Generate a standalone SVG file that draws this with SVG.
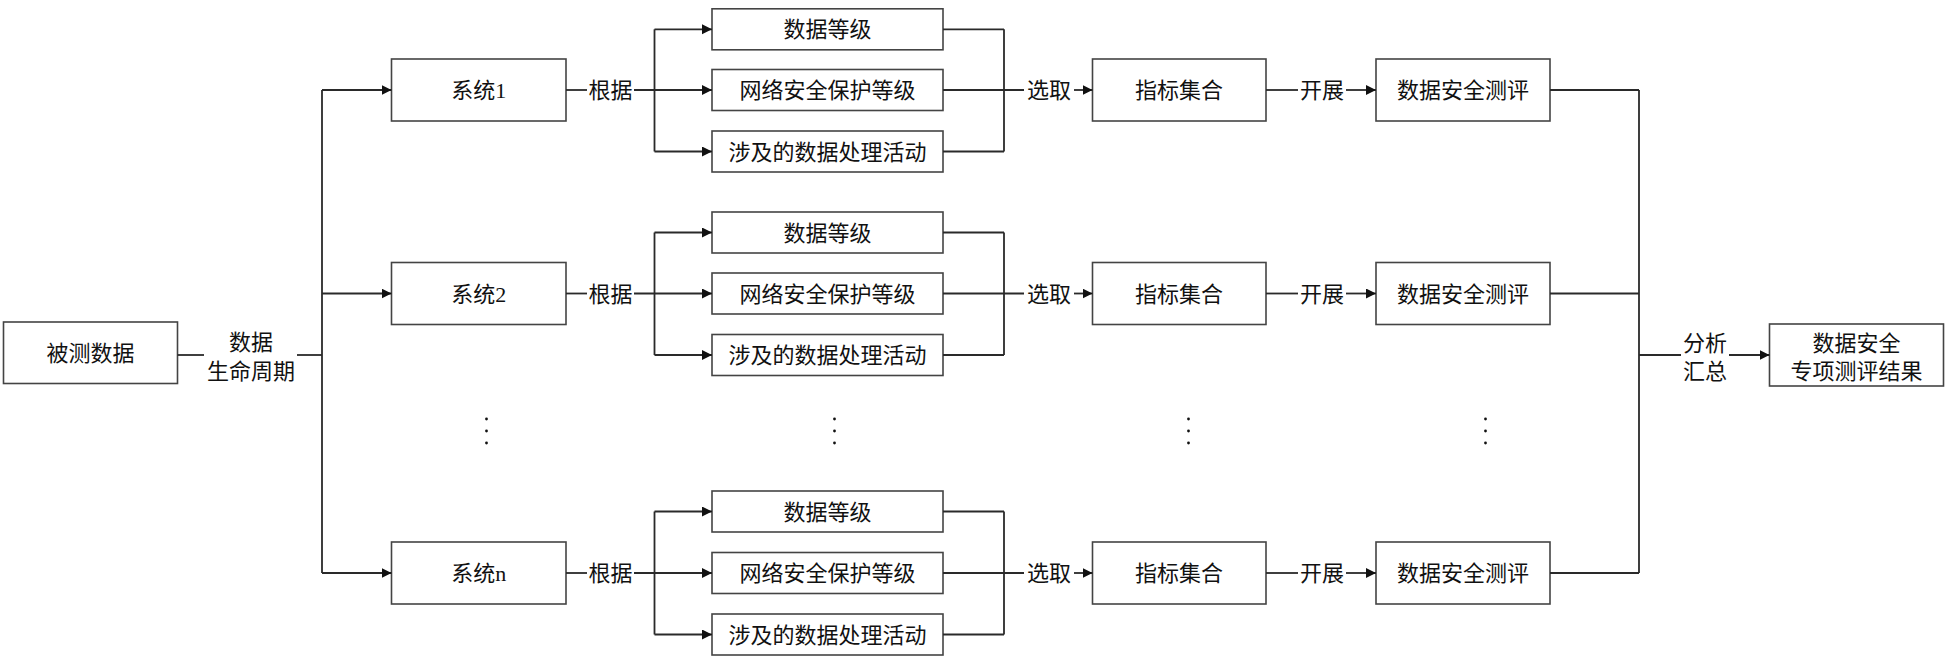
<svg xmlns="http://www.w3.org/2000/svg" width="1947" height="661" viewBox="0 0 1947 661">
<defs>
<marker id="arr" markerUnits="userSpaceOnUse" markerWidth="11" markerHeight="11" refX="10" refY="5" orient="auto">
<path d="M0,0 L10,5 L0,10 Z" fill="#111"/>
</marker>
<style>
rect.b{fill:#fff;stroke:#444;stroke-width:1.6}
text{font-family:"Liberation Serif","Noto Sans CJK SC",serif;font-size:22px;fill:#111;text-anchor:middle}
.c line,.c path{stroke:#2a2a2a;stroke-width:1.8;fill:none}
.a{marker-end:url(#arr)}
.dot{fill:#111}
</style>
</defs>
<rect width="1947" height="661" fill="#fff"/>

<g id="n-input"><rect class="b" x="3.5" y="322" width="174" height="61.5"/><text x="90.5" y="360.5">被测数据</text></g>

<g id="n-sys1"><rect class="b" x="391.5" y="59" width="174.5" height="62"/><text x="478.75" y="98">系统1</text></g>
<g id="n-sys2"><rect class="b" x="391.5" y="262.5" width="174.5" height="62"/><text x="478.75" y="301.5">系统2</text></g>
<g id="n-sysn"><rect class="b" x="391.5" y="542" width="174.5" height="62"/><text x="478.75" y="581">系统n</text></g>

<g id="n-r1-a"><rect class="b" x="712" y="8.8" width="231" height="41"/><text x="827.5" y="37.3">数据等级</text></g>
<g id="n-r1-b"><rect class="b" x="712" y="69.5" width="231" height="41"/><text x="827.5" y="98">网络安全保护等级</text></g>
<g id="n-r1-c"><rect class="b" x="712" y="131" width="231" height="41"/><text x="827.5" y="159.5">涉及的数据处理活动</text></g>

<g id="n-r2-a"><rect class="b" x="712" y="212" width="231" height="41"/><text x="827.5" y="240.5">数据等级</text></g>
<g id="n-r2-b"><rect class="b" x="712" y="273" width="231" height="41"/><text x="827.5" y="301.5">网络安全保护等级</text></g>
<g id="n-r2-c"><rect class="b" x="712" y="334.5" width="231" height="41"/><text x="827.5" y="363">涉及的数据处理活动</text></g>

<g id="n-r3-a"><rect class="b" x="712" y="491" width="231" height="41"/><text x="827.5" y="519.5">数据等级</text></g>
<g id="n-r3-b"><rect class="b" x="712" y="552.5" width="231" height="41"/><text x="827.5" y="581">网络安全保护等级</text></g>
<g id="n-r3-c"><rect class="b" x="712" y="614" width="231" height="41"/><text x="827.5" y="642.5">涉及的数据处理活动</text></g>

<g id="n-idx1"><rect class="b" x="1092.5" y="59" width="173.5" height="62"/><text x="1179" y="98">指标集合</text></g>
<g id="n-idx2"><rect class="b" x="1092.5" y="262.5" width="173.5" height="62"/><text x="1179" y="301.5">指标集合</text></g>
<g id="n-idx3"><rect class="b" x="1092.5" y="542" width="173.5" height="62"/><text x="1179" y="581">指标集合</text></g>

<g id="n-eval1"><rect class="b" x="1376" y="59" width="174" height="62"/><text x="1463" y="98">数据安全测评</text></g>
<g id="n-eval2"><rect class="b" x="1376" y="262.5" width="174" height="62"/><text x="1463" y="301.5">数据安全测评</text></g>
<g id="n-eval3"><rect class="b" x="1376" y="542" width="174" height="62"/><text x="1463" y="581">数据安全测评</text></g>

<g id="n-result"><rect class="b" x="1769.5" y="324" width="174" height="62"/><text x="1856.5" y="351">数据安全</text><text x="1856.5" y="378.5">专项测评结果</text></g>

<g id="connectors" class="c">
<line x1="177.5" y1="355" x2="204" y2="355"/>
<line x1="297" y1="355" x2="322" y2="355"/>
<line x1="322" y1="90" x2="322" y2="573"/>
<line class="a" x1="322" y1="90" x2="391.5" y2="90"/>
<line class="a" x1="322" y1="293.5" x2="391.5" y2="293.5"/>
<line class="a" x1="322" y1="573" x2="391.5" y2="573"/>

<line x1="566" y1="90" x2="587" y2="90"/>
<line class="a" x1="634" y1="90" x2="712" y2="90"/>
<line x1="654.5" y1="29.3" x2="654.5" y2="151.5"/>
<line class="a" x1="654.5" y1="29.3" x2="712" y2="29.3"/>
<line class="a" x1="654.5" y1="151.5" x2="712" y2="151.5"/>
<line x1="943" y1="29.3" x2="1004" y2="29.3"/>
<line x1="943" y1="90" x2="1024" y2="90"/>
<line x1="943" y1="151.5" x2="1004" y2="151.5"/>
<line x1="1004" y1="29.3" x2="1004" y2="151.5"/>
<line class="a" x1="1074" y1="90" x2="1092.5" y2="90"/>
<line x1="1266" y1="90" x2="1298" y2="90"/>
<line class="a" x1="1346" y1="90" x2="1376" y2="90"/>
<line x1="1550" y1="90" x2="1639" y2="90"/>

<line x1="566" y1="293.5" x2="587" y2="293.5"/>
<line class="a" x1="634" y1="293.5" x2="712" y2="293.5"/>
<line x1="654.5" y1="232.5" x2="654.5" y2="355"/>
<line class="a" x1="654.5" y1="232.5" x2="712" y2="232.5"/>
<line class="a" x1="654.5" y1="355" x2="712" y2="355"/>
<line x1="943" y1="232.5" x2="1004" y2="232.5"/>
<line x1="943" y1="293.5" x2="1024" y2="293.5"/>
<line x1="943" y1="355" x2="1004" y2="355"/>
<line x1="1004" y1="232.5" x2="1004" y2="355"/>
<line class="a" x1="1074" y1="293.5" x2="1092.5" y2="293.5"/>
<line x1="1266" y1="293.5" x2="1298" y2="293.5"/>
<line class="a" x1="1346" y1="293.5" x2="1376" y2="293.5"/>
<line x1="1550" y1="293.5" x2="1639" y2="293.5"/>

<line x1="566" y1="573" x2="587" y2="573"/>
<line class="a" x1="634" y1="573" x2="712" y2="573"/>
<line x1="654.5" y1="511.5" x2="654.5" y2="634.5"/>
<line class="a" x1="654.5" y1="511.5" x2="712" y2="511.5"/>
<line class="a" x1="654.5" y1="634.5" x2="712" y2="634.5"/>
<line x1="943" y1="511.5" x2="1004" y2="511.5"/>
<line x1="943" y1="573" x2="1024" y2="573"/>
<line x1="943" y1="634.5" x2="1004" y2="634.5"/>
<line x1="1004" y1="511.5" x2="1004" y2="634.5"/>
<line class="a" x1="1074" y1="573" x2="1092.5" y2="573"/>
<line x1="1266" y1="573" x2="1298" y2="573"/>
<line class="a" x1="1346" y1="573" x2="1376" y2="573"/>
<line x1="1550" y1="573" x2="1639" y2="573"/>

<line x1="1639" y1="90" x2="1639" y2="573"/>
<line x1="1639" y1="355" x2="1681" y2="355"/>
<line class="a" x1="1729" y1="355" x2="1769.5" y2="355"/>
</g>

<g id="labels">
<text x="251" y="349.5">数据</text>
<text x="251" y="378.5">生命周期</text>
<text x="610.5" y="98">根据</text>
<text x="610.5" y="301.5">根据</text>
<text x="610.5" y="581">根据</text>
<text x="1049" y="98">选取</text>
<text x="1049" y="301.5">选取</text>
<text x="1049" y="581">选取</text>
<text x="1322" y="98">开展</text>
<text x="1322" y="301.5">开展</text>
<text x="1322" y="581">开展</text>
<text x="1705" y="351">分析</text>
<text x="1705" y="378.5">汇总</text>
</g>

<g id="ellipses">
<circle class="dot" cx="486.5" cy="419" r="1.4"/><circle class="dot" cx="486.5" cy="431" r="1.4"/><circle class="dot" cx="486.5" cy="443" r="1.4"/>
<circle class="dot" cx="834.5" cy="419" r="1.4"/><circle class="dot" cx="834.5" cy="431" r="1.4"/><circle class="dot" cx="834.5" cy="443" r="1.4"/>
<circle class="dot" cx="1188.5" cy="419" r="1.4"/><circle class="dot" cx="1188.5" cy="431" r="1.4"/><circle class="dot" cx="1188.5" cy="443" r="1.4"/>
<circle class="dot" cx="1485.5" cy="419" r="1.4"/><circle class="dot" cx="1485.5" cy="431" r="1.4"/><circle class="dot" cx="1485.5" cy="443" r="1.4"/>
</g>
</svg>
